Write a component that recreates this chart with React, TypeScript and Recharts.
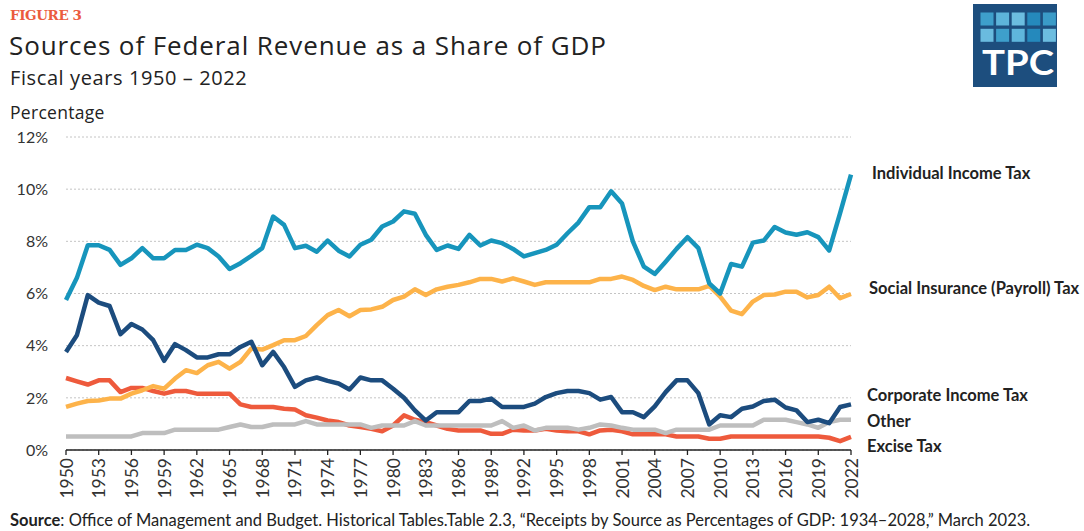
import React from 'react';
import { LineChart, Line, XAxis, YAxis, CartesianGrid, LabelList } from 'recharts';

const years = [
  1950, 1951, 1952, 1953, 1954, 1955, 1956, 1957, 1958, 1959,
  1960, 1961, 1962, 1963, 1964, 1965, 1966, 1967, 1968, 1969,
  1970, 1971, 1972, 1973, 1974, 1975, 1976, 1977, 1978, 1979,
  1980, 1981, 1982, 1983, 1984, 1985, 1986, 1987, 1988, 1989,
  1990, 1991, 1992, 1993, 1994, 1995, 1996, 1997, 1998, 1999,
  2000, 2001, 2002, 2003, 2004, 2005, 2006, 2007, 2008, 2009,
  2010, 2011, 2012, 2013, 2014, 2015, 2016, 2017, 2018, 2019,
  2020, 2021, 2022,
];

const individualIncomeTax = [
  5.75, 6.6, 7.85, 7.85, 7.67, 7.1, 7.35, 7.74, 7.35, 7.35,
  7.67, 7.67, 7.87, 7.74, 7.42, 6.94, 7.16, 7.44, 7.74, 8.95,
  8.63, 7.74, 7.83, 7.6, 8.03, 7.64, 7.42, 7.87, 8.06, 8.57,
  8.76, 9.15, 9.06, 8.25, 7.67, 7.84, 7.71, 8.25, 7.84, 8.03,
  7.93, 7.71, 7.42, 7.55, 7.67, 7.87, 8.31, 8.72, 9.31, 9.31,
  9.92, 9.45, 7.99, 7.03, 6.75, 7.22, 7.71, 8.16, 7.74, 6.39,
  6.0, 7.13, 7.03, 7.95, 8.03, 8.55, 8.34, 8.25, 8.35, 8.16,
  7.65, 9.08, 10.56,
];

const socialInsuranceTax = [
  1.65, 1.78, 1.88, 1.9, 1.97, 1.97, 2.16, 2.29, 2.45, 2.35,
  2.74, 3.06, 2.95, 3.25, 3.38, 3.12, 3.38, 3.89, 3.85, 4.02,
  4.21, 4.21, 4.37, 4.79, 5.17, 5.37, 5.13, 5.37, 5.39, 5.49,
  5.75, 5.88, 6.16, 5.94, 6.16, 6.26, 6.33, 6.43, 6.56, 6.56,
  6.46, 6.58, 6.46, 6.33, 6.43, 6.43, 6.43, 6.43, 6.43, 6.56,
  6.56, 6.65, 6.52, 6.29, 6.13, 6.26, 6.16, 6.16, 6.16, 6.29,
  5.88, 5.34, 5.21, 5.69, 5.94, 5.96, 6.07, 6.07, 5.85, 5.94,
  6.26, 5.82, 5.98,
];

const corporateIncomeTax = [
  3.76, 4.4, 5.94, 5.65, 5.52, 4.44, 4.83, 4.62, 4.21, 3.42,
  4.06, 3.83, 3.55, 3.55, 3.67, 3.67, 3.95, 4.15, 3.25, 3.76,
  3.18, 2.42, 2.67, 2.78, 2.65, 2.55, 2.32, 2.78, 2.67, 2.67,
  2.35, 2.0, 1.52, 1.13, 1.45, 1.45, 1.45, 1.88, 1.88, 1.97,
  1.65, 1.65, 1.65, 1.78, 2.03, 2.18, 2.26, 2.26, 2.18, 1.93,
  2.03, 1.45, 1.45, 1.26, 1.67, 2.22, 2.67, 2.67, 2.18, 0.98,
  1.33, 1.26, 1.58, 1.67, 1.88, 1.93, 1.63, 1.52, 1.07, 1.16,
  1.03, 1.65, 1.75,
];

const otherReceipts = [
  0.52, 0.52, 0.52, 0.52, 0.52, 0.52, 0.52, 0.65, 0.65, 0.65,
  0.78, 0.78, 0.78, 0.78, 0.78, 0.88, 0.98, 0.88, 0.88, 0.98,
  0.98, 0.98, 1.11, 0.98, 0.98, 0.98, 0.98, 0.98, 0.85, 0.94,
  0.94, 0.94, 1.11, 0.94, 0.94, 0.94, 0.94, 0.94, 0.94, 0.94,
  1.11, 0.85, 0.94, 0.75, 0.85, 0.85, 0.85, 0.78, 0.85, 0.98,
  0.94, 0.85, 0.78, 0.78, 0.78, 0.65, 0.78, 0.78, 0.78, 0.78,
  0.94, 0.94, 0.94, 0.94, 1.16, 1.16, 1.16, 1.07, 0.98, 0.85,
  1.07, 1.16, 1.16,
];

const exciseTax = [
  2.76, 2.63, 2.51, 2.67, 2.67, 2.22, 2.38, 2.38, 2.26, 2.16,
  2.26, 2.26, 2.16, 2.16, 2.16, 2.16, 1.75, 1.65, 1.65, 1.65,
  1.58, 1.55, 1.33, 1.24, 1.13, 1.07, 0.94, 0.88, 0.81, 0.72,
  0.94, 1.33, 1.16, 1.07, 0.94, 0.81, 0.75, 0.75, 0.75, 0.62,
  0.62, 0.78, 0.75, 0.75, 0.81, 0.75, 0.72, 0.72, 0.6, 0.75,
  0.78, 0.72, 0.6, 0.6, 0.6, 0.6, 0.52, 0.52, 0.52, 0.43,
  0.43, 0.52, 0.52, 0.52, 0.52, 0.52, 0.52, 0.52, 0.52, 0.52,
  0.47, 0.34, 0.5,
];

const yearTicks = [
  1950, 1953, 1956, 1959, 1962, 1965, 1968, 1971, 1974, 1977, 1980, 1983, 1986,
  1989, 1992, 1995, 1998, 2001, 2004, 2007, 2010, 2013, 2016, 2019, 2022,
];
const percentTicks = [0, 2, 4, 6, 8, 10, 12];

// drawn bottom to top; dx/dy place the end label next to the last point
const seriesList = [
  { key: 'excise', name: 'Excise Tax', values: exciseTax, color: '#EE5A3C', dx: 16, dy: 9 },
  { key: 'other', name: 'Other', values: otherReceipts, color: '#BEBEBE', dx: 16, dy: 1 },
  { key: 'social', name: 'Social Insurance (Payroll) Tax', values: socialInsuranceTax, color: '#FDB34A', dx: 18, dy: -6 },
  { key: 'corporate', name: 'Corporate Income Tax', values: corporateIncomeTax, color: '#1C4C7E', dx: 16, dy: -9 },
  { key: 'individual', name: 'Individual Income Tax', values: individualIncomeTax, color: '#1795BC', dx: 21, dy: -2 },
];

const rows = years.map((year, i) => {
  const row: any = { year };
  seriesList.forEach((s) => {
    row[s.key] = s.values[i];
  });
  return row;
});

const FONT = 'Lato, "Open Sans", sans-serif';
const HEAD_FONT = '"Open Sans", sans-serif';

const YearTick = (props: any) => {
  const { x, y, payload } = props;
  return (
    <text
      x={x}
      y={y}
      transform={`rotate(-90 ${x} ${y})`}
      textAnchor="end"
      dominantBaseline="central"
      fontSize={17.5}
      fontFamily={FONT}
      fill="#333"
    >
      {payload.value}
    </text>
  );
};

const endLabel = (text: string, dx: number, dy: number) => (props: any) => {
  const { x, y, index } = props;
  if (index !== years.length - 1) return null;
  return (
    <text
      x={x + dx}
      y={y + dy}
      dominantBaseline="central"
      fontSize={16.5}
      fontWeight={700}
      fontFamily={FONT}
      fill="#222"
    >
      {text}
    </text>
  );
};

const logoSquares = [
  ['#3E9FCB', '#5DB4DA', '#6CBDE0', '#2589BC', '#3A9BC8'],
  ['#6ABBDF', '#3E9FCB', '#5FB6DC', '#2589BC', '#6CBDE0'],
];

const Header = () => (
  <svg width={1084} height={531} style={{ position: 'absolute', left: 0, top: 0, pointerEvents: 'none' }}>
    <text x={10} y={20} fontFamily='"DejaVu Serif", serif' fontWeight={700} fontSize={13.5} fill="#EB5B3E" letterSpacing={-0.4}>
      FIGURE 3
    </text>
    <text x={9} y={55} fontFamily={HEAD_FONT} fontSize={26} fill="#222" letterSpacing={0.9}>
      Sources of Federal Revenue as a Share of GDP
    </text>
    <text x={10} y={84.5} fontFamily={HEAD_FONT} fontSize={20} fill="#222" letterSpacing={0.6}>
      Fiscal years 1950 – 2022
    </text>
    <text x={10} y={118.5} fontFamily={HEAD_FONT} fontSize={17.5} fill="#222" letterSpacing={0.3}>
      Percentage
    </text>
    <text x={10} y={525.5} fontFamily={FONT} fontSize={16.5} fill="#222">
      <tspan fontWeight={700}>Source</tspan>: Office of Management and Budget. Historical Tables.Table 2.3, “Receipts by
      Source as Percentages of GDP: 1934–2028,” March 2023.
    </text>
    <rect x={973} y={4} width={84} height={83} fill="#1D4E7E" />
    {logoSquares.map((row, r) =>
      row.map((c, i) => (
        <rect key={`${r}-${i}`} x={980.5 + i * 15.6} y={12.5 + r * 16.3} width={13} height={13} fill={c} />
      ))
    )}
    <text x={982} y={75} fontFamily={FONT} fontWeight={700} fontSize={34} fill="#fff" textLength={72} lengthAdjust="spacingAndGlyphs">
      TPC
    </text>
  </svg>
);

export default function App() {
  return (
    <div style={{ position: 'absolute', left: 0, top: 0, width: 1084, height: 531, background: '#fff' }}>
      <LineChart width={1084} height={531} data={rows} margin={{ top: 137, right: 233, bottom: 31, left: 16 }}>
        <CartesianGrid vertical={false} stroke="#c4c4c4" strokeDasharray="2 2" />
        <YAxis
          type="number"
          domain={[0, 12]}
          ticks={percentTicks}
          tickFormatter={(v: number) => `${v}%`}
          axisLine={false}
          tickLine={false}
          tickSize={0}
          tickMargin={18}
          width={50}
          tick={{ fontSize: 16, fontFamily: FONT, fill: '#333' }}
        />
        <XAxis
          dataKey="year"
          type="number"
          domain={[1950, 2022]}
          ticks={yearTicks}
          interval={0}
          height={50}
          tickSize={5}
          tickMargin={3}
          axisLine={{ stroke: '#222', strokeWidth: 1.3 }}
          tickLine={{ stroke: '#222', strokeWidth: 1.3 }}
          tick={<YearTick />}
        />
        {seriesList.map((s) => (
          <Line
            key={s.key}
            type="linear"
            dataKey={s.key}
            stroke={s.color}
            strokeWidth={4.5}
            strokeLinejoin="round"
            dot={false}
            isAnimationActive={false}
          >
            <LabelList dataKey={s.key} content={endLabel(s.name, s.dx, s.dy)} />
          </Line>
        ))}
      </LineChart>
      <Header />
    </div>
  );
}
